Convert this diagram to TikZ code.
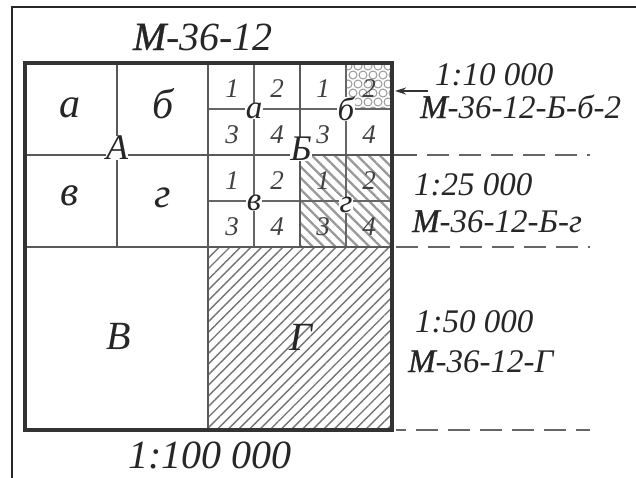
\documentclass[tikz,border=0pt]{standalone}
\usepackage{fontspec}
\setmainfont{Liberation Serif}
\newfontface\mface{Liberation Serif Italic}[FakeBold=0.9]
\usetikzlibrary{patterns,patterns.meta,arrows.meta}
\newcommand{\Mlet}{{\mface М}}
\begin{document}
\begin{tikzpicture}[x=1pt,y=-1pt,
  outerframe/.style={line width=1.6pt,draw=black!85},
  mainframe/.style={line width=3.5pt,draw=black!80},
  majorline/.style={line width=2.2pt,draw=black!65},
  minorline/.style={line width=1.8pt,draw=black!60},
  dashline/.style={line width=2pt,draw=black!60,dash pattern=on 22pt off 10pt},
  ttl/.style={font=\itshape\fontsize{40}{40}\selectfont,text=black!85,inner sep=0pt},
  scl/.style={font=\itshape\fontsize{33}{33}\selectfont,text=black!85,inner sep=0pt,anchor=base west},
  quad/.style={font=\itshape\fontsize{40}{40}\selectfont,text=black!85,inner sep=0pt},
  qsmall/.style={font=\itshape\fontsize{42}{42}\selectfont,text=black!85,inner sep=0pt},
  sub/.style={font=\itshape\fontsize{33}{33}\selectfont,text=black!85,inner sep=0.5pt,fill=white},
  dig/.style={font=\itshape\fontsize{27}{27}\selectfont,text=black!75,inner sep=0pt},
  cross/.style={font=\itshape\fontsize{36}{36}\selectfont,text=black!85,inner sep=0.5pt,fill=white},
  scallop/.style={line width=1pt,draw=black!40}
]
\useasboundingbox (0,0) rectangle (636,477);
\fill[white] (0,0) rectangle (636,477);
% outer frame (only top and left visible)
\draw[outerframe] (12,490) -- (12,7) -- (650,7);

% hatched areas
\fill[pattern={Lines[angle=45,distance=7.5pt,line width=1.4pt]},pattern color=black!55] (208,247) rectangle (392,430);
\fill[pattern={Lines[angle=-45,distance=8pt,line width=2.3pt]},pattern color=black!40] (300,155) rectangle (392,247);
\begin{scope}
  \clip (346,63) rectangle (392,109);
  \foreach \i in {0,...,5} {
    \foreach \j in {0,...,5} {
      \draw[scallop] ({348+\i*10+mod(\j,2)*5},{66+\j*9}) circle[radius=4pt];
    }
  }
\end{scope}

% sub grid in quadrant B
\draw[minorline] (208,109) -- (392,109);
\draw[minorline] (208,201) -- (392,201);
\draw[minorline] (254,63) -- (254,247);
\draw[minorline] (346,63) -- (346,247);
% main grid
\draw[majorline] (117,63) -- (117,247);
\draw[majorline] (300,63) -- (300,247);
\draw[majorline] (25,155) -- (417,155);
\draw[majorline] (25,247) -- (392,247);
\draw[majorline] (208,63) -- (208,430);
\draw[mainframe] (25,63) rectangle (392,430);

% dashed extensions
\draw[dashline] (427,155) -- (590,155);
\draw[dashline] (396,247) -- (590,247);
\draw[dashline,dash phase=12pt] (396,430) -- (590,430);

% quadrant A
\node[qsmall] (qa) at (70,108) {а};
\node[qsmall] (qb) at (163,104) {б};
\node[qsmall] (qv) at (70,196) {в};
\node[qsmall] (qg) at (163,198) {г};
\node[cross] (QA) at (117,148) {А};

% quadrant B: digits
\node[dig] at (232,89) {1};
\node[dig] at (277,89) {2};
\node[dig] at (232,135) {3};
\node[dig] at (277,135) {4};
\node[dig] at (323,89) {1};
\node[dig] (b2) at (369,89) {2};
\node[dig] at (323,135) {3};
\node[dig] at (369,135) {4};
\node[dig] at (232,181) {1};
\node[dig] at (277,181) {2};
\node[dig] at (232,227) {3};
\node[dig] at (277,227) {4};
\node[dig] at (323,181) {1};
\node[dig] at (369,181) {2};
\node[dig] at (323,227) {3};
\node[dig] at (369,227) {4};
\node[sub] (sa) at (254,111) {а};
\node[sub] (sb) at (346,109) {б};
\node[sub] (sv) at (254,203) {в};
\node[sub] (sg) at (346,205) {г};
\node[cross] (QB) at (301,149) {Б};

% lower quadrants
\node[quad,anchor=base] (QV) at (119,349) {В};
\node[quad,anchor=base] (QG) at (301,350) {Г};

% titles
\node[ttl,anchor=base] (top) at (203,50) {\Mlet-36-12};
\node[ttl,anchor=base] (bottom) at (210,468) {1:100 000};

% scale labels
\node[scl] (s10) at (435,85) {1:10 000};
\node[scl] (n10) at (420,118) {\Mlet-36-12-Б-б-2};
\node[scl] (s25) at (414,195) {1:25 000};
\node[scl] (n25) at (412,232) {\Mlet-36-12-Б-г};
\node[scl] (s50) at (415,332) {1:50 000};
\node[scl] (n50) at (408,372) {\Mlet-36-12-Г};

% arrow to sheet 1:10 000
\coordinate (arrfrom) at (428,91);
\coordinate (arrto) at (395,91);
\draw[line width=1.6pt,draw=black!80,-{Stealth[length=11pt,width=7pt]}] (arrfrom) -- (arrto);
\end{tikzpicture}
\end{document}
